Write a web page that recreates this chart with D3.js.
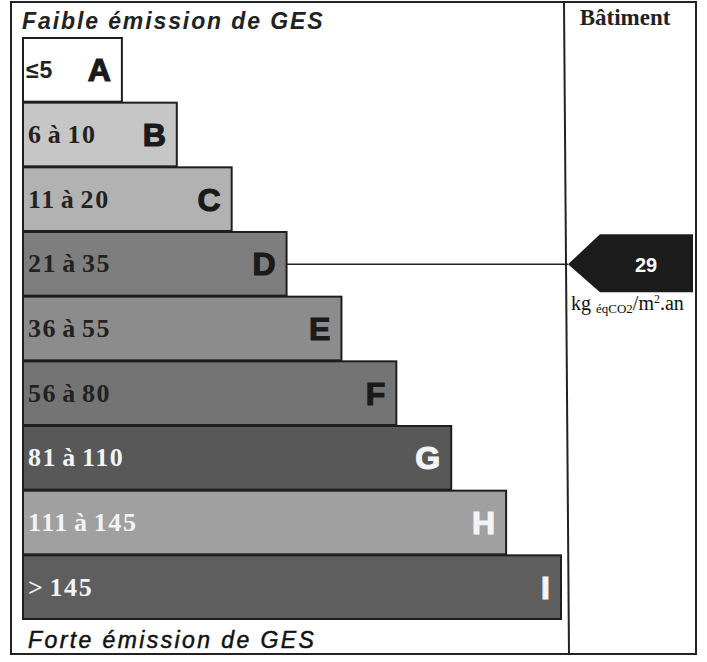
<!DOCTYPE html>
<html>
<head>
<meta charset="utf-8">
<script src="https://cdn.jsdelivr.net/npm/d3@7"></script>
<style>
  body { margin: 0; background: #fff; }
  svg { display: block; }
</style>
</head>
<body>
<svg id="chart" width="707" height="662"></svg>
<script>
/* Données de l'étiquette GES */
const classes = ['A', 'B', 'C', 'D', 'E', 'F', 'G', 'H', 'I']
const plages = ['≤5', '6 à 10', '11 à 20', '21 à 35', '36 à 55', '56 à 80', '81 à 110', '111 à 145', '> 145']
const rangs = [1, 2, 3, 4, 5, 6, 7, 8, 9]
const gris = ['#ffffff', '#c6c6c6', '#b2b2b2', '#7e7e7e', '#8c8c8c', '#747474', '#585858', '#a0a0a0', '#5e5e5e']
const texteClair = [false, false, false, false, false, false, true, true, true]
const valeurBatiment = 29
const classeBatiment = 'D'

const svg = d3.select('#chart')

/* Echelles */
const y = d3.scaleBand().domain(classes).range([37, 619]).paddingInner(0)
const x = d3.scaleLinear().domain([0, 9]).range([44, 538])
const x0 = 23

/* Cadre */
svg.append('rect').attr('x', 11).attr('y', 2).attr('width', 685).attr('height', 652)
    .attr('fill', 'none').attr('stroke', '#222').attr('stroke-width', 2)
svg.append('line').attr('x1', 564).attr('y1', 2).attr('x2', 569).attr('y2', 654)
    .attr('stroke', '#222').attr('stroke-width', 2)

/* Titres */
svg.append('text').attr('x', 22).attr('y', 29)
    .attr('font-family', 'Liberation Sans, Arial, sans-serif').attr('font-size', 23)
    .attr('font-weight', 'bold').attr('font-style', 'italic').attr('letter-spacing', 1.9)
    .attr('fill', '#222').text('Faible émission de GES')
svg.append('text').attr('x', 28).attr('y', 648)
    .attr('font-family', 'Liberation Sans, Arial, sans-serif').attr('font-size', 23)
    .attr('font-style', 'italic').attr('letter-spacing', 2.4)
    .attr('stroke', '#111').attr('stroke-width', 0.5)
    .attr('fill', '#111').text('Forte émission de GES')
svg.append('text').attr('x', 625).attr('y', 25).attr('text-anchor', 'middle')
    .attr('font-family', 'Liberation Serif, Times New Roman, serif').attr('font-size', 23)
    .attr('font-weight', 'bold').attr('fill', '#222').text('Bâtiment')

/* Barres */
const barres = svg.append('g').selectAll('g').data(classes).enter().append('g')

barres.append('rect')
    .attr('x', x0)
    .attr('y', d => y(d) + 1)
    .attr('width', (d, i) => x(rangs[i]))
    .attr('height', y.bandwidth() - 1)
    .attr('fill', (d, i) => gris[i])
    .attr('stroke', '#1e1e1e').attr('stroke-width', 2)

barres.append('text')
    .attr('x', (d, i) => i === 0 ? x0 + 3 : x0 + 5)
    .attr('y', d => y(d) + y.bandwidth() / 2 + 9)
    .attr('font-family', (d, i) => i === 0 ? 'Liberation Sans, Arial, sans-serif' : 'Liberation Serif, Times New Roman, serif')
    .attr('font-size', (d, i) => i === 0 ? 23 : 26)
    .attr('letter-spacing', (d, i) => i === 0 ? 1 : 1.6)
    .attr('word-spacing', (d, i) => i === 0 ? 0 : -3)
    .attr('font-weight', 'bold')
    .attr('fill', (d, i) => texteClair[i] ? '#f4f4f4' : '#222')
    .text((d, i) => plages[i])

barres.append('text')
    .attr('x', (d, i) => x0 + x(rangs[i]) - 11)
    .attr('y', d => y(d) + y.bandwidth() / 2 + 12)
    .attr('text-anchor', 'end')
    .attr('font-family', 'Liberation Sans, Arial, sans-serif')
    .attr('font-size', 32).attr('font-weight', 'bold')
    .attr('stroke', (d, i) => texteClair[i] ? '#f4f4f4' : '#1a1a1a').attr('stroke-width', 1.2)
    .attr('fill', (d, i) => texteClair[i] ? '#f4f4f4' : '#1a1a1a')
    .text(d => d)

/* Indicateur du bâtiment */
const iB = classes.indexOf(classeBatiment)
const yC = y(classeBatiment) + y.bandwidth() / 2 + 1
svg.append('line')
    .attr('x1', x0 + x(rangs[iB])).attr('y1', yC)
    .attr('x2', 568).attr('y2', yC)
    .attr('stroke', '#222').attr('stroke-width', 1.5)

const fleche = [[568, yC], [600, yC - 30], [693, yC - 30], [693, yC + 28], [600, yC + 28]]
svg.append('path').attr('d', d3.line()(fleche) + 'Z').attr('fill', '#1c1c1c')
svg.append('text').attr('x', 646).attr('y', yC + 8).attr('text-anchor', 'middle')
    .attr('font-family', 'Liberation Sans, Arial, sans-serif').attr('font-size', 20)
    .attr('font-weight', 'bold').attr('fill', '#fff').text(valeurBatiment)

const unite = svg.append('text').attr('x', 571).attr('y', yC + 46)
    .attr('font-family', 'Liberation Serif, Times New Roman, serif').attr('font-size', 20)
    .attr('fill', '#111')
unite.append('tspan').text('kg ')
unite.append('tspan').attr('font-size', 13).attr('dy', 3).text('éqCO2')
unite.append('tspan').attr('dy', -3).text('/m')
unite.append('tspan').attr('font-size', 12).attr('dy', -7).text('2')
unite.append('tspan').attr('dy', 7).text('.an')
</script>
</body>
</html>
